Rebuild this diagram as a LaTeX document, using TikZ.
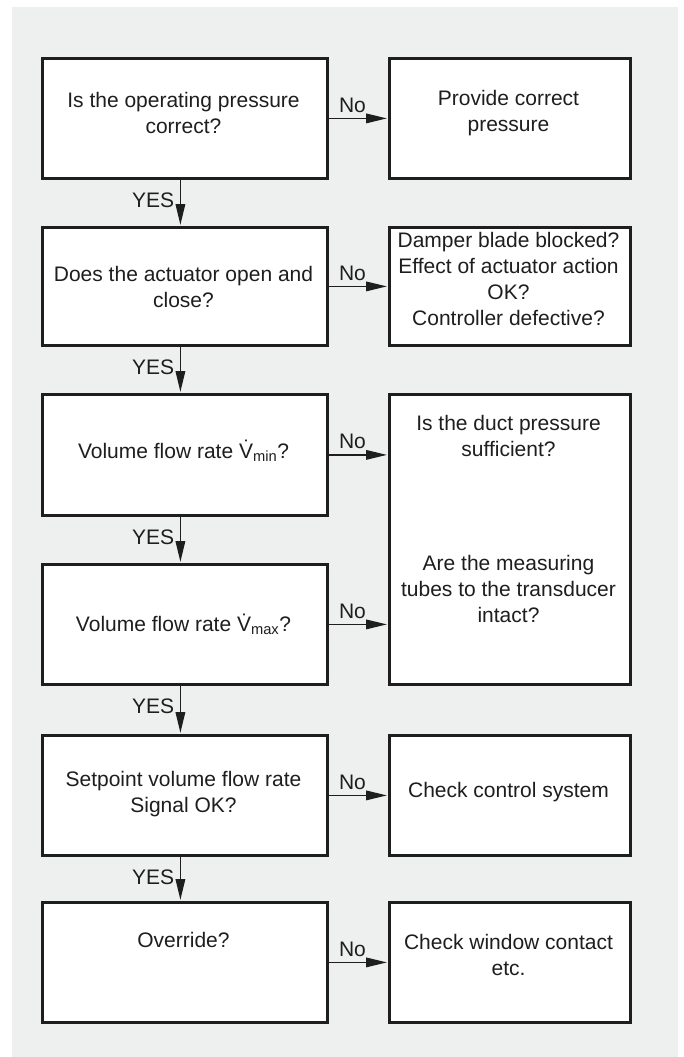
\documentclass[tikz,border=0pt]{standalone}
\usepackage{fontspec}
\setmainfont{Liberation Sans}
\usetikzlibrary{arrows.meta,calc}
\definecolor{bg}{HTML}{EEF0F0}
\definecolor{ink}{HTML}{1E1E1E}
\begin{document}
\begin{tikzpicture}[x=1pt,y=-1pt,
  box/.style={draw=ink,line width=2.8pt,fill=white,inner sep=0pt,anchor=north west},
  txt/.style={text=ink,font=\fontsize{21}{26}\selectfont,align=center,inner sep=0pt},
  lab/.style={text=ink,font=\fontsize{21}{26}\selectfont,inner sep=0pt},
  arr/.style={draw=ink,line width=1.8pt,-{Triangle[length=21pt,width=9.5pt]},shorten >=1pt}]
\useasboundingbox (0,0) rectangle (684,1057);
\fill[bg] (12,7) rectangle (678,1057);
% left column
\node[box,minimum width=285pt,minimum height=120pt] (b1) at (41,57) {};
\node[box,minimum width=285pt,minimum height=118pt] (b2) at (41,226) {};
\node[box,minimum width=285pt,minimum height=121pt] (b3) at (41,393) {};
\node[box,minimum width=285pt,minimum height=120pt] (b4) at (41,563) {};
\node[box,minimum width=285pt,minimum height=120pt] (b5) at (41,734) {};
\node[box,minimum width=285pt,minimum height=120pt] (b6) at (41,901) {};
% right column
\node[box,minimum width=241pt,minimum height=120pt] (r1) at (388,57) {};
\node[box,minimum width=241pt,minimum height=118pt] (r2) at (388,226) {};
\node[box,minimum width=241pt,minimum height=290pt] (r3) at (388,393) {};
\node[box,minimum width=241pt,minimum height=120pt] (r5) at (388,734) {};
\node[box,minimum width=241pt,minimum height=120pt] (r6) at (388,901) {};
% texts
\node[txt] (t1) at (183.5,113) {Is the operating pressure\\correct?};
\node[txt] (t2) at (183.5,287) {Does the actuator open and\\close?};
\node[txt] (t3) at (183.5,451) {Volume flow rate \.{V}\textsubscript{min}?};
\node[txt] (t4) at (183.5,624) {Volume flow rate \.{V}\textsubscript{max}?};
\node[txt] (t5) at (183.5,794) {Setpoint volume flow rate\\Signal OK?};
\node[txt] (t6) at (183.5,940) {Override?};
\node[txt] (s1) at (508.5,113) {Provide correct\\pressure};
\node[txt] (s2) at (508.5,279) {Damper blade blocked?\\Effect of actuator action\\OK?\\Controller defective?};
\node[txt] (s3a) at (508.5,436) {Is the duct pressure\\sufficient?};
\node[txt] (s3b) at (508.5,589) {Are the measuring\\tubes to the transducer\\intact?};
\node[txt] (s5) at (508.5,792) {Check control system};
\node[txt] (s6) at (508.5,955) {Check window contact\\etc.};
% YES arrows
\foreach \a/\b in {b1/b2,b2/b3,b3/b4,b4/b5,b5/b6}{
  \draw[arr] ([xshift=-4.5pt]\a.south) -- ([xshift=-4.5pt]\b.north);
  \node[lab,anchor=base east] (y\a) at ($(\a.south)+(-10.5,28)$) {YES};
}
% No arrows
\foreach \a/\b in {b1/r1,b2/r2,b3/r3,b4/r3,b5/r5,b6/r6}{
  \draw[arr] (\a.east) -- (\a.east -| \b.west);
  \node[lab,anchor=base west] (n\a) at ($(\a.east)+(10,-6)$) {No};
}
\end{tikzpicture}
\end{document}
